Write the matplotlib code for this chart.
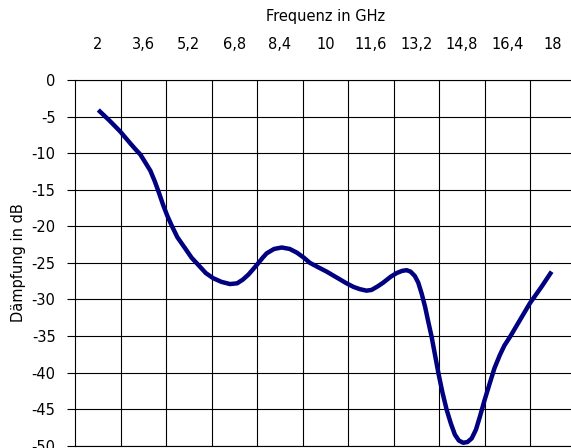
import numpy as np
import matplotlib.pyplot as plt

# Daten
freq_ghz = [2.02, 2.4, 2.78, 3.13, 3.31, 3.5, 3.66, 3.85, 4.01, 4.15, 4.30, 4.45,
            4.60, 4.8, 5.07, 5.3, 5.54, 5.8, 6.06, 6.35, 6.65, 6.9, 7.1, 7.3,
            7.59, 7.8, 7.94, 8.2, 8.47, 8.75, 9.0, 9.25, 9.46, 9.75, 10.05, 10.4,
            10.75, 11.0, 11.22, 11.45, 11.63, 11.85, 12.04, 12.3, 12.51, 12.7, 12.86,
            13.0, 13.15, 13.27, 13.39, 13.51, 13.62, 13.74, 13.86, 13.98, 14.12,
            14.27, 14.42, 14.56, 14.7, 14.85, 15.0, 15.15, 15.3, 15.44, 15.6, 15.79,
            15.95, 16.14, 16.3, 16.5, 16.85, 17.2, 17.6, 17.96]
daempfung_db = [-4.1, -5.5, -7.0, -8.6, -9.4, -10.2, -11.2, -12.4, -13.9, -15.4, -17.1,
                -18.6, -19.9, -21.5, -23.0, -24.3, -25.3, -26.4, -27.1, -27.6, -27.9,
                -27.8, -27.3, -26.6, -25.3, -24.3, -23.7, -23.1, -22.9, -23.1, -23.6,
                -24.3, -25.0, -25.6, -26.2, -27.0, -27.8, -28.3, -28.6, -28.8, -28.7,
                -28.2, -27.7, -26.9, -26.4, -26.1, -26.0, -26.2, -26.8, -27.7, -29.2,
                -31.0, -33.0, -35.1, -37.6, -40.1, -42.7, -45.1, -47.0, -48.5, -49.3,
                -49.6, -49.5, -49.0, -47.8, -46.0, -43.8, -41.4, -39.4, -37.6, -36.3,
                -35.1, -32.8, -30.5, -28.3, -26.2]

tick_pos = [2, 3.6, 5.2, 6.8, 8.4, 10, 11.6, 13.2, 14.8, 16.4, 18]
tick_labels = ['2', '3,6', '5,2', '6,8', '8,4', '10', '11,6', '13,2', '14,8', '16,4', '18']
y_ticks = [0, -5, -10, -15, -20, -25, -30, -35, -40, -45, -50]

plt.rcParams['font.family'] = 'DejaVu Sans'

fig = plt.figure(figsize=(5.71, 4.48), dpi=100)
ax = fig.add_axes([75 / 571, 1 - 445.7 / 448, 500.5 / 571, (445.7 - 80) / 448])

ax.plot(freq_ghz, daempfung_db, color='#000080', linewidth=3.2,
        solid_joinstyle='round', solid_capstyle='butt', zorder=3)

ax.set_xlim(1.2, 18.8)
ax.set_ylim(-50, 0)

ax.xaxis.tick_top()
ax.xaxis.set_label_position('top')
ax.set_xticks(tick_pos)
ax.set_xticklabels(tick_labels, fontsize=10.5)
ax.set_xticks(np.array(tick_pos[:-1]) + 0.8, minor=True)
ax.tick_params(axis='x', which='both', length=0, pad=20)
ax.set_xlabel('Frequenz in GHz', fontsize=10.5, labelpad=12)

ax.set_yticks(y_ticks)
ax.set_yticklabels([str(v) for v in y_ticks], fontsize=10.5)
ax.tick_params(axis='y', length=6, width=0.8, color='black', pad=8)
ax.set_ylabel('Dämpfung in dB', fontsize=10.5, labelpad=4)

ax.grid(True, which='minor', axis='x', color='black', linewidth=0.8)
ax.grid(True, which='major', axis='y', color='black', linewidth=0.8)
for s in ax.spines.values():
    s.set_color('black')
    s.set_linewidth(0.8)

fig.savefig('out.png', dpi=100)
